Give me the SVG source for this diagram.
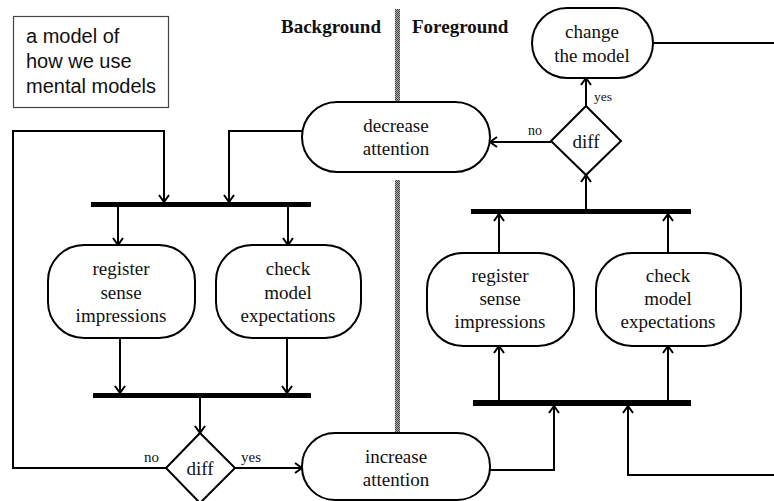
<svg xmlns="http://www.w3.org/2000/svg" width="774" height="501" viewBox="0 0 774 501">
<style>
.node{fill:#fff;stroke:#000;stroke-width:2}
.t{font-family:"Liberation Serif","Times New Roman",serif;font-size:19px;fill:#111;text-anchor:middle}
.lbl{font-family:"Liberation Serif","Times New Roman",serif;font-size:14px;fill:#111}
.hdr{font-family:"Liberation Serif","Times New Roman",serif;font-size:19px;font-weight:bold;fill:#111}
.leg{font-family:"Liberation Sans",Arial,sans-serif;font-size:20px;fill:#111}
.c{fill:none;stroke:#000;stroke-width:2}
.ca{fill:none;stroke:#000;stroke-width:2;marker-end:url(#arr)}
.bar{fill:#000}
</style>
<defs>
<marker id="arr" markerWidth="12" markerHeight="12" refX="10" refY="6" orient="auto" markerUnits="userSpaceOnUse">
<path d="M3,1 L10,6 L3,11" fill="none" stroke="#000" stroke-width="2"/>
</marker>
<pattern id="hatch" width="2" height="2" patternUnits="userSpaceOnUse">
<rect width="2" height="2" fill="#b0b0b0"/>
<rect width="1" height="1" fill="#444"/>
<rect x="1" y="1" width="1" height="1" fill="#444"/>
</pattern>
</defs>

<g id="separator">
<rect x="395" y="9" width="5" height="93" fill="url(#hatch)"/>
<rect x="395" y="180" width="5" height="253" fill="url(#hatch)"/>
</g>

<g id="legend">
<rect x="13.5" y="16.5" width="155" height="91" fill="#fff" stroke="#444" stroke-width="1.2"/>
<text class="leg" x="26" y="43">a model of</text>
<text class="leg" x="26" y="68">how we use</text>
<text class="leg" x="26" y="93">mental models</text>
</g>

<g id="headers">
<text class="hdr" x="281" y="33">Background</text>
<text class="hdr" x="412" y="33">Foreground</text>
</g>

<g id="connectors">
<path class="ca" d="M166,468 L13,468 L13,131 L164,131 L164,202"/>
<path class="ca" d="M302,131 L229,131 L229,202"/>
<path class="ca" d="M118,207 L118,245"/>
<path class="ca" d="M288,207 L288,245"/>
<path class="ca" d="M120,338 L120,393"/>
<path class="ca" d="M287,338 L287,393"/>
<path class="ca" d="M200,398 L200,433"/>
<path class="ca" d="M235,468 L302,468"/>
<path class="ca" d="M490,470 L554,470 L554,406"/>
<path class="ca" d="M774,475 L628,475 L628,406"/>
<path class="ca" d="M499,400 L499,346"/>
<path class="ca" d="M668,400 L668,346"/>
<path class="ca" d="M499,253 L499,214"/>
<path class="ca" d="M668,253 L668,214"/>
<path class="ca" d="M586,209 L586,175"/>
<path class="ca" d="M586,106 L586,78"/>
<path class="ca" d="M551,142 L490,142"/>
<path class="c" d="M653,43 L774,43"/>
<text class="lbl" x="594" y="101" style="font-size:13.5px">yes</text>
<text class="lbl" x="528" y="135">no</text>
<text class="lbl" x="144" y="462" style="font-size:15px">no</text>
<text class="lbl" x="241" y="462" style="font-size:15px">yes</text>
</g>

<g id="bars">
<rect class="bar" x="91" y="202" width="220" height="5"/>
<rect class="bar" x="93" y="393" width="218" height="5"/>
<rect class="bar" x="471" y="209" width="220" height="5"/>
<rect class="bar" x="473" y="400" width="218" height="6"/>
</g>

<g id="change-model">
<rect class="node" x="532" y="8" width="121" height="70" rx="35" ry="35"/>
<text class="t" x="592" y="38">change</text>
<text class="t" x="592" y="62">the model</text>
</g>

<g id="decrease-attention">
<rect class="node" x="302" y="102" width="188" height="70" rx="35" ry="35"/>
<text class="t" x="396" y="132">decrease</text>
<text class="t" x="396" y="155">attention</text>
</g>

<g id="diff-fg">
<polygon class="node" points="586,106 621,141 586,175 551,141"/>
<text class="t" x="586" y="148">diff</text>
</g>

<g id="register-bg">
<rect class="node" x="48" y="245" width="147" height="93" rx="36" ry="36"/>
<text class="t" x="121" y="275">register</text>
<text class="t" x="121" y="299">sense</text>
<text class="t" x="121" y="322">impressions</text>
</g>

<g id="check-bg">
<rect class="node" x="216" y="245" width="145" height="93" rx="36" ry="36"/>
<text class="t" x="288" y="275">check</text>
<text class="t" x="288" y="299">model</text>
<text class="t" x="288" y="322">expectations</text>
</g>

<g id="register-fg">
<rect class="node" x="427" y="253" width="147" height="93" rx="36" ry="36"/>
<text class="t" x="500" y="282">register</text>
<text class="t" x="500" y="305">sense</text>
<text class="t" x="500" y="328">impressions</text>
</g>

<g id="check-fg">
<rect class="node" x="596" y="253" width="145" height="93" rx="36" ry="36"/>
<text class="t" x="668" y="282">check</text>
<text class="t" x="668" y="305">model</text>
<text class="t" x="668" y="328">expectations</text>
</g>

<g id="diff-bg">
<polygon class="node" points="200,433 235,468 200,503 166,468"/>
<text class="t" x="200" y="475">diff</text>
</g>

<g id="increase-attention">
<rect class="node" x="302" y="433" width="188" height="67" rx="33" ry="33"/>
<text class="t" x="396" y="463">increase</text>
<text class="t" x="396" y="486">attention</text>
</g>
</svg>
